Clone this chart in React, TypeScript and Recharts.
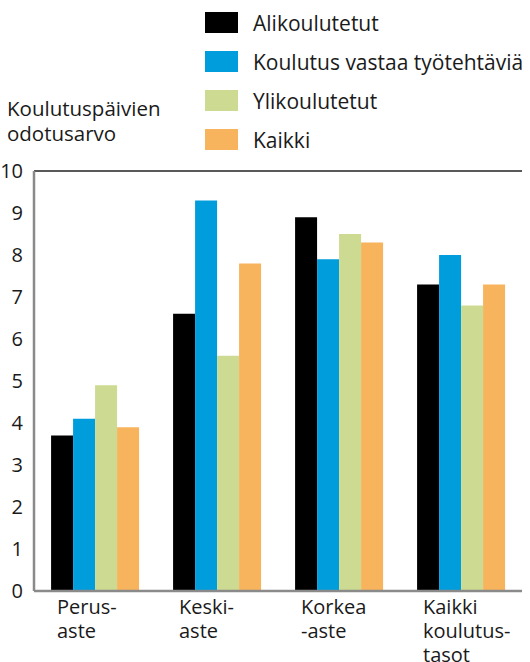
import { Bar, BarChart, CartesianGrid, XAxis, YAxis } from "recharts";

const categories = ["Perus-\naste", "Keski-\naste", "Korkea\n-aste", "Kaikki\nkoulutus-\ntasot"];
const alikoulutetut = [3.7, 6.6, 8.9, 7.3];
const vastaa = [4.1, 9.3, 7.9, 8.0];
const ylikoulutetut = [4.9, 5.6, 8.5, 6.8];
const kaikki = [3.9, 7.8, 8.3, 7.3];
const yTicks = [0, 1, 2, 3, 4, 5, 6, 7, 8, 9, 10];

const series = [
  { key: "ali", name: "Alikoulutetut", color: "#000000" },
  { key: "vastaa", name: "Koulutus vastaa työtehtäviä", color: "#009ddc" },
  { key: "yli", name: "Ylikoulutetut", color: "#cddb92" },
  { key: "kaikki", name: "Kaikki", color: "#f7b45c" },
];

const data = categories.map((label, i) => ({
  label,
  ali: alikoulutetut[i],
  vastaa: vastaa[i],
  yli: ylikoulutetut[i],
  kaikki: kaikki[i],
}));

const FONT = "'Open Sans', 'DejaVu Sans', sans-serif";

function CategoryTick({ x, y, payload }: any) {
  const lines = String(payload.value).split("\n");
  return (
    <text x={x - 38} y={y} fontSize={20} fontFamily={FONT} fill="#1a1a1a" textAnchor="start">
      {lines.map((line, i) => (
        <tspan key={i} x={x - 38} dy={i === 0 ? 15 : 24}>
          {line}
        </tspan>
      ))}
    </text>
  );
}

function LegendBox() {
  return (
    <div
      style={{
        position: "absolute",
        left: 205,
        top: 3,
        fontFamily: FONT,
        fontSize: 21,
        color: "#1a1a1a",
        whiteSpace: "nowrap",
      }}
    >
      {series.map((s) => (
        <div key={s.key} style={{ display: "flex", alignItems: "center", height: 39 }}>
          <span style={{ width: 33, height: 21, background: s.color, display: "inline-block", marginRight: 15 }} />
          <span>{s.name}</span>
        </div>
      ))}
    </div>
  );
}

export default function App() {
  return (
    <div
      style={{
        position: "absolute",
        left: 0,
        top: 0,
        width: 530,
        height: 662,
        background: "#fff",
        overflow: "hidden",
      }}
    >
      <LegendBox />
      <div
        style={{
          position: "absolute",
          left: 7,
          top: 96,
          fontFamily: FONT,
          fontSize: 20.5,
          lineHeight: "25px",
          color: "#1a1a1a",
        }}
      >
        Koulutuspäivien
        <br />
        odotusarvo
      </div>
      <div style={{ position: "absolute", left: 0, top: 0 }}>
        <BarChart
          width={530}
          height={662}
          data={data}
          margin={{ top: 171, right: 8, bottom: 0, left: 0 }}
          barCategoryGap="14%"
          barGap={0}
        >
          <CartesianGrid vertical={false} stroke="#222" strokeWidth={1.5} />
          <XAxis
            dataKey="label"
            height={71}
            tickLine={false}
            axisLine={{ stroke: "#8a8a8a", strokeWidth: 2.5 }}
            tick={<CategoryTick />}
            interval={0}
          />
          <YAxis
            yAxisId="left"
            width={34}
            domain={[0, 10]}
            ticks={yTicks}
            interval={0}
            tickLine={false}
            axisLine={{ stroke: "#8a8a8a", strokeWidth: 2.5 }}
            tickMargin={5}
            tick={{ fontSize: 20, fontFamily: FONT, fill: "#1a1a1a" }}
          />
          <YAxis
            yAxisId="right"
            orientation="right"
            width={0}
            domain={[0, 10]}
            tick={false}
            tickLine={false}
            axisLine={{ stroke: "#333", strokeWidth: 2 }}
          />
          {series.map((s) => (
            <Bar key={s.key} yAxisId="left" dataKey={s.key} name={s.name} fill={s.color} isAnimationActive={false} />
          ))}
        </BarChart>
      </div>
    </div>
  );
}
